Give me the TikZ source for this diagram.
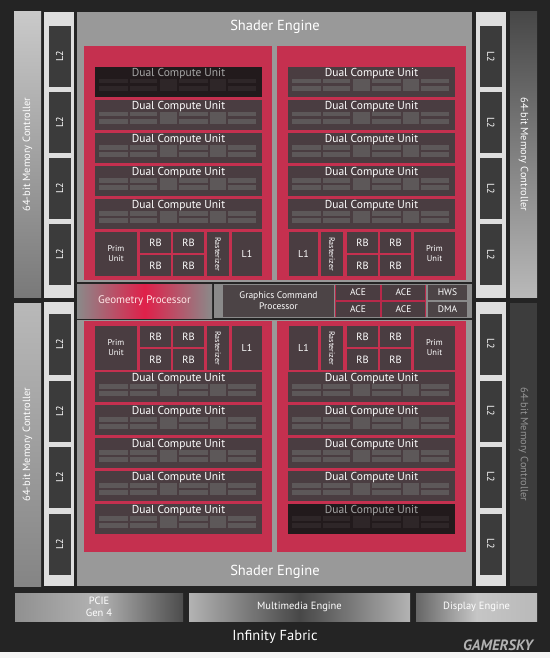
\documentclass[tikz,border=0pt]{standalone}
\usepackage{fontspec}
\setmainfont{PT Sans}
\usetikzlibrary{positioning,calc}

\definecolor{bgdark}{HTML}{242424}
\definecolor{engray}{HTML}{999999}
\definecolor{panelred}{HTML}{C5304F}
\definecolor{cubg}{HTML}{4A3D41}
\definecolor{cudark}{HTML}{221A1C}
\definecolor{segcol}{HTML}{5D5859}
\definecolor{segdark}{HTML}{2E2628}
\definecolor{l2frame}{HTML}{DEDEDE}
\definecolor{l2dark}{HTML}{3B3B3B}
\definecolor{midgray}{HTML}{8A8A8A}
\definecolor{gcpbg}{HTML}{4C4446}
\definecolor{aceglow}{HTML}{B8294A}
\definecolor{geored}{HTML}{E0204A}

\begin{document}
\begin{tikzpicture}[
        x=1pt, y=-1pt,
        every node/.style={align=center, text=white, inner sep=0pt, font=\fontsize{9}{10}\selectfont},
        memctl/.style={rectangle, minimum width=27pt},
        memlbl/.style={rotate=#1, font=\fontsize{10.5}{12}\selectfont},
        l2frm/.style={rectangle, fill=l2frame, minimum width=30pt},
        l2box/.style={rectangle, fill=l2dark, rotate=#1, minimum width=61pt, minimum height=22pt, font=\fontsize{10}{12}\selectfont},
        engine/.style={rectangle, fill=engray, minimum width=395pt},
        title/.style={font=\fontsize{14.5}{16}\selectfont},
        panel/.style={rectangle, fill=panelred},
        cubox/.style={rectangle, fill=cubg, minimum width=167pt, minimum height=30pt},
        culabel/.style={font=\fontsize{11.5}{12}\selectfont, text=white},
        seg/.style={fill=segcol},
        cell/.style={rectangle, fill=cubg},
        rbcell/.style={cell, minimum width=31pt, minimum height=21pt, font=\fontsize{10.5}{12}\selectfont},
        rast/.style={cell, rotate=-90, minimum width=44pt, minimum height=22pt, font=\fontsize{8}{9}\selectfont},
        acecell/.style={rectangle, fill=#1, minimum height=15pt, font=\fontsize{9.5}{10}\selectfont},
        iobox/.style={rectangle, minimum height=28pt, font=\fontsize{10.5}{12}\selectfont},
        darkcu/.style={cubox/.append style={fill=cudark}, culabel/.append style={text=gray!70}, seg/.append style={fill=segdark}},
        dualcu/.pic={
            \node[cubox] (-box) at (83.5,15) {};
            \node[culabel] (-lbl) at (83.5,7) {Dual Compute Unit};
            \foreach \a/\b in {4/33,35/62,84/113,133/161}{
                \fill[seg] (\a,12) rectangle (\b,16.5);
                \fill[seg] (\a,19) rectangle (\b,24);
            }
            \foreach \a/\b in {65/82,115/131}
                \fill[seg] (\a,12) rectangle (\b,24);
        }
    ]
        \useasboundingbox (0,0) rectangle (550,658);
        \fill[bgdark] (0,0) rectangle (550,652);
        \fill[gray!8] (0,652) rectangle (550,658);

        % Memory controllers
        \node[memctl, minimum height=285pt, top color=gray!42, bottom color=gray!50!black!70] (mcl1) at (27.5,154.5) {};
        \node[memctl, minimum height=283pt, top color=gray!55, bottom color=gray!40!black!60] (mcl2) at (27.5,444.5) {};
        \node[memctl, minimum height=285pt, top color=black!72, bottom color=gray!55] (mcr1) at (523.5,154.5) {};
        \node[memctl, minimum height=283pt, fill=black!76] (mcr2) at (523.5,444.5) {};
        \node[memlbl=90] at (mcl1) {64-bit Memory Controller};
        \node[memlbl=90] at (mcl2) {64-bit Memory Controller};
        \node[memlbl=-90] at (mcr1) {64-bit Memory Controller};
        \node[memlbl=-90, text=gray!85] at (mcr2) {64-bit Memory Controller};

        % L2 slices
        \node[l2frm, minimum height=286pt] (l2fl1) at (59,155) {};
        \node[l2frm, minimum height=284pt] (l2fl2) at (59,444) {};
        \node[l2frm, minimum height=286pt] (l2fr1) at (491,155) {};
        \node[l2frm, minimum height=284pt] (l2fr2) at (491,444) {};
        \foreach \y [count=\i] in {56.5,122.5,188.5,254.5,344,411,477,544}{
            \node[l2box=90] (l2l\i) at (59.5,\y) {L2};
            \node[l2box=-90] (l2r\i) at (491,\y) {L2};
        }

        % Shader engines
        \node[engine, minimum height=270pt] (setop) at (274.5,147) {};
        \node[engine, minimum height=266pt] (sebot) at (274.5,453) {};
        \node[title] (setoplbl) at (275,27) {Shader Engine};
        \node[title] (sebotlbl) at (275,572) {Shader Engine};

        \node[panel, minimum width=188pt, minimum height=234pt] (ptl) at (178,163) {};
        \node[panel, minimum width=189pt, minimum height=234pt] (ptr) at (371.5,163) {};
        \node[panel, minimum width=188pt, minimum height=231pt] (pbl) at (178,436.5) {};
        \node[panel, minimum width=189pt, minimum height=231pt] (pbr) at (371.5,436.5) {};

        % Dual compute units
        \pic[darkcu] (cutl1) at (95,67) {dualcu};
        \foreach \i in {2,...,5}
            \pic (cutl\i) at (95,{34+33*\i}) {dualcu};
        \foreach \i in {1,...,5}{
            \pic (cutr\i) at (288,{34+33*\i}) {dualcu};
            \pic (cubl\i) at (95,{339+33*\i}) {dualcu};
        }
        \foreach \i in {1,...,4}
            \pic (cubr\i) at (288,{339+33*\i}) {dualcu};
        \pic[darkcu] (cubr5) at (288,504) {dualcu};

        % Prim units, render backends, rasterizers, L1
        \foreach \r/\yc in {t/254, b/348}{
            \node[cell, minimum width=42pt, minimum height=44pt, font=\fontsize{8.5}{10}\selectfont] (priml\r) at (116,\yc) {Prim\\Unit};
            \node[rbcell] (rbl\r1) at (155.5,{\yc-11.5}) {RB};
            \node[rbcell] (rbl\r2) at (188.5,{\yc-11.5}) {RB};
            \node[rbcell] (rbl\r3) at (155.5,{\yc+11.5}) {RB};
            \node[rbcell] (rbl\r4) at (188.5,{\yc+11.5}) {RB};
            \node[rast] (rastl\r) at (218,\yc) {Rasterizer};
            \node[cell, minimum width=30pt, minimum height=44pt, font=\fontsize{10}{12}\selectfont] (l1l\r) at (247,\yc) {L1};

            \node[cell, minimum width=29pt, minimum height=44pt, font=\fontsize{10}{12}\selectfont] (l1r\r) at (303.5,\yc) {L1};
            \node[rast] (rastr\r) at (332,\yc) {Rasterizer};
            \node[rbcell] (rbr\r1) at (362.5,{\yc-11.5}) {RB};
            \node[rbcell] (rbr\r2) at (395.5,{\yc-11.5}) {RB};
            \node[rbcell] (rbr\r3) at (362.5,{\yc+11.5}) {RB};
            \node[rbcell] (rbr\r4) at (395.5,{\yc+11.5}) {RB};
            \node[cell, minimum width=41pt, minimum height=44pt, font=\fontsize{8.5}{10}\selectfont] (primr\r) at (434.5,\yc) {Prim\\Unit};
        }

        % Middle strip
        \node[rectangle, minimum width=135pt, minimum height=34pt, left color=midgray, right color=midgray, middle color=geored,
              text=red!10, font=\fontsize{11}{12}\selectfont] (geo) at (144.5,301) {Geometry Processor};
        \node[rectangle, fill=midgray, minimum width=258pt, minimum height=34pt] (gcarea) at (343,301) {};
        \node[rectangle, fill=gcpbg, minimum width=111pt, minimum height=32pt, font=\fontsize{9.5}{11}\selectfont] (gcp) at (278.5,301) {Graphics Command\\Processor};
        \fill[aceglow] (335,285) rectangle (426,317);
        \node[acecell=cubg, minimum width=44pt] (ace1) at (358,292.5) {ACE};
        \node[acecell=cubg, minimum width=43pt] (ace2) at (403.5,292.5) {ACE};
        \node[acecell=cubg, minimum width=44pt] (ace3) at (358,309.5) {ACE};
        \node[acecell=cubg, minimum width=43pt] (ace4) at (403.5,309.5) {ACE};
        \node[acecell=gcpbg, minimum width=39pt] (hws) at (447.5,292.5) {HWS};
        \node[acecell=gcpbg, minimum width=39pt] (dma) at (447.5,309.5) {DMA};

        % I/O
        \node[iobox, minimum width=168pt, left color=gray!55!black!60, right color=black!70, middle color=gray!60] (pcie) at (99,607) {PCIE\\Gen 4};
        \node[iobox, minimum width=221pt, left color=gray!60, right color=gray!60, middle color=black!72] (mm) at (299.5,607) {Multimedia Engine};
        \node[iobox, minimum width=121pt, left color=black!60, right color=gray!55, middle color=gray!45] (disp) at (476.5,607) {Display Engine};
        \node[title] (fabric) at (275,637) {Infinity Fabric};
        \node[text=gray!60, font=\fontsize{15}{17}\selectfont\bfseries\itshape] (mark) at (498,645) {GAMERSKY};

    \end{tikzpicture}
\end{document}
